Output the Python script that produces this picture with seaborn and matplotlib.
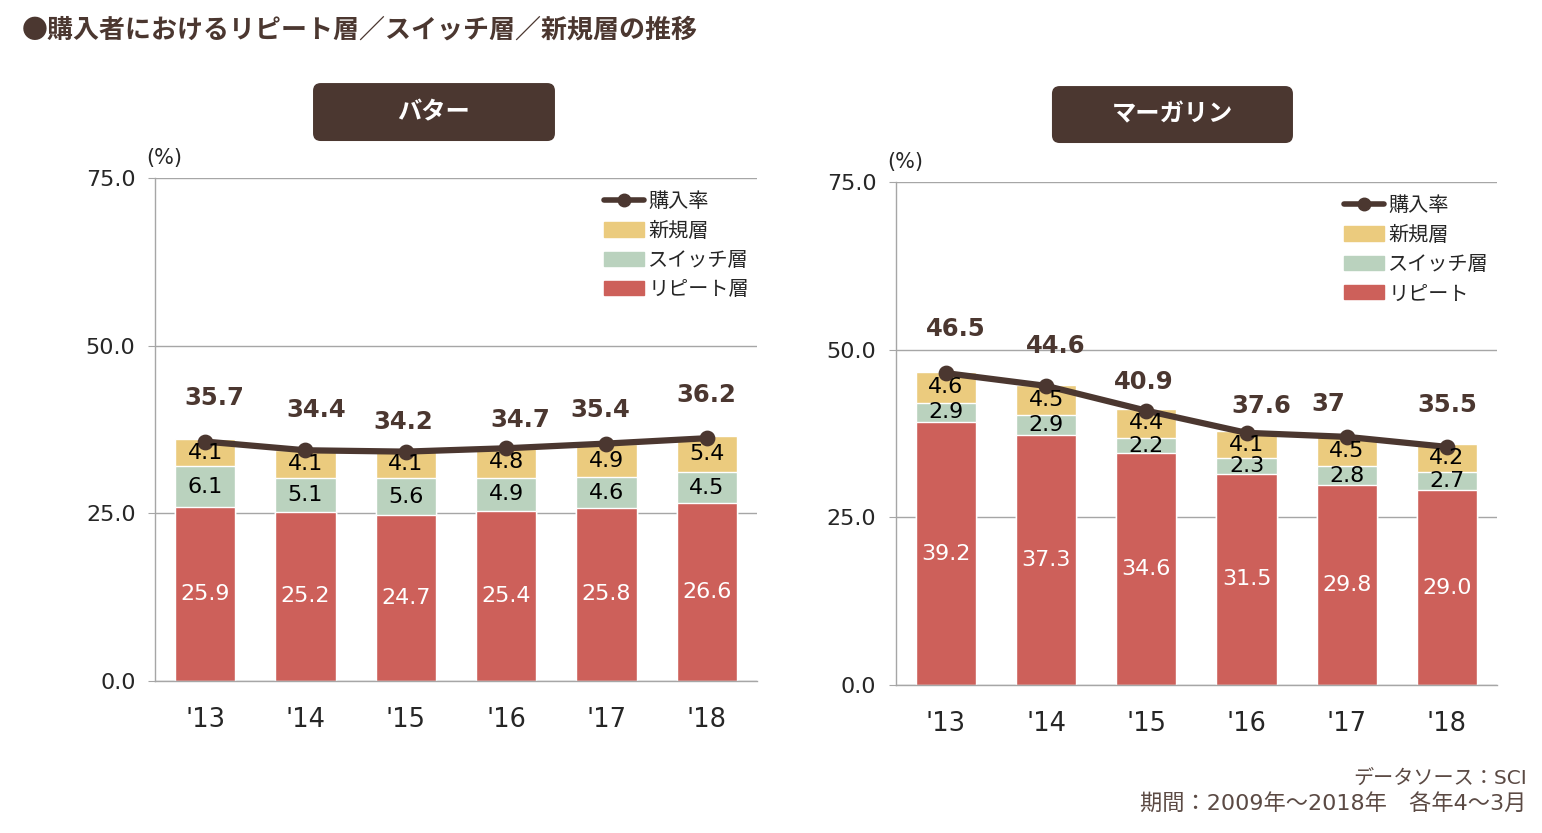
import numpy as np
import pandas as pd
import matplotlib
matplotlib.use("Agg")
import matplotlib.pyplot as plt
from matplotlib.patches import FancyBboxPatch, Patch
from matplotlib.lines import Line2D
import seaborn as sns

years = ["'13", "'14", "'15", "'16", "'17", "'18"]

# バター
butter_repeat = [25.9, 25.2, 24.7, 25.4, 25.8, 26.6]
butter_switch = [6.1, 5.1, 5.6, 4.9, 4.6, 4.5]
butter_new = [4.1, 4.1, 4.1, 4.8, 4.9, 5.4]
butter_rate = [35.7, 34.4, 34.2, 34.7, 35.4, 36.2]

# マーガリン
marg_repeat = [39.2, 37.3, 34.6, 31.5, 29.8, 29.0]
marg_switch = [2.9, 2.9, 2.2, 2.3, 2.8, 2.7]
marg_new = [4.6, 4.5, 4.4, 4.1, 4.5, 4.2]
marg_rate = [46.5, 44.6, 40.9, 37.6, 37, 35.5]

RED = "#CD605A"
GREEN = "#BAD2BE"
YELLOW = "#EBCB7E"
BROWN = "#4B3730"
GRID = "#A6A6A6"

sns.set_style("white")
plt.rcParams['font.family'] = ['DejaVu Sans', 'Noto Sans CJK JP']
JP = ['Noto Sans CJK JP', 'DejaVu Sans']

fig = plt.figure(figsize=(15.42, 8.33), dpi=100)
ax1 = fig.add_axes([0.1005, 0.1825, 0.3904, 0.6038])
ax2 = fig.add_axes([0.581, 0.1777, 0.3898, 0.6038])


def draw(ax, repeat, switch, new, rate, repeat_label, dx, dy):
    df = pd.DataFrame({'year': years, 'repeat': repeat, 'switch': switch, 'new': new})
    df['rs'] = df['repeat'] + df['switch']
    df['total'] = df['rs'] + df['new']
    # stacked bars by overlaying cumulative totals
    sns.barplot(data=df, x='year', y='total', color=YELLOW, width=0.6, saturation=1, ax=ax)
    sns.barplot(data=df, x='year', y='rs', color=GREEN, width=0.6, saturation=1, ax=ax)
    sns.barplot(data=df, x='year', y='repeat', color=RED, width=0.6, saturation=1, ax=ax)

    for i, row in df.iterrows():
        ax.text(i, row['repeat'] / 2, f"{row['repeat']:.1f}", color='white',
                ha='center', va='center', fontsize=16)
        ax.text(i, row['repeat'] + row['switch'] / 2, f"{row['switch']:.1f}", color='black',
                ha='center', va='center', fontsize=16)
        ax.text(i, row['rs'] + row['new'] / 2, f"{row['new']:.1f}", color='black',
                ha='center', va='center', fontsize=16)

    sns.pointplot(x=years, y=rate, color=BROWN, markers='o', markersize=8,
                  linewidth=4.5, ax=ax)
    for i, v in enumerate(rate):
        ax.annotate(f"{v:g}", (i, v), xytext=(dx[i], dy[i]), textcoords='offset pixels',
                    ha='center', va='center', fontsize=17.5, fontweight='bold', color=BROWN)

    ax.set_xlim(-0.5, 5.5)
    ax.set_ylim(0, 75)
    ax.set_yticks([0, 25, 50, 75])
    ax.set_yticklabels([f"{v:.1f}" for v in [0, 25, 50, 75]], fontsize=16)
    ax.set_xlabel('')
    ax.set_ylabel('')
    ax.tick_params(axis='x', which='major', length=0, pad=19, labelsize=18.5)
    ax.set_xticks(np.arange(-0.5, 6, 1), minor=True)
    ax.tick_params(axis='x', which='minor', length=6, color=GRID, direction='out')
    ax.tick_params(axis='y', length=5, color=GRID, direction='out', pad=9, left=True)
    ax.grid(axis='y', color=GRID, lw=1)
    ax.set_axisbelow(True)
    for s in ['top', 'right']:
        ax.spines[s].set_visible(False)
    for s in ['left', 'bottom']:
        ax.spines[s].set_color(GRID)
        ax.spines[s].set_linewidth(1)
    ax.text(0.015, 1.04, "(%)", transform=ax.transAxes, ha='center', va='center', fontsize=15)

    handles = [Line2D([0], [0], color=BROWN, lw=4, marker='o', ms=9),
               Patch(color=YELLOW), Patch(color=GREEN), Patch(color=RED)]
    labels = ['購入率', '新規層', 'スイッチ層', repeat_label]
    ax.legend(handles, labels, loc='upper right', bbox_to_anchor=(1.0, 0.99), frameon=False,
              prop={'family': JP, 'size': 14.5}, handlelength=2.0, handletextpad=0.2,
              labelspacing=0.42, borderaxespad=0)


draw(ax1, butter_repeat, butter_switch, butter_new, butter_rate, 'リピート層',
     [9, 11, -3, 14, -6, 0], [44, 40, 30, 28, 34, 43])
draw(ax2, marg_repeat, marg_switch, marg_new, marg_rate, 'リピート',
     [10, 10, -3, 15, -18, 0], [44, 40, 29, 27, 33, 42])

# panel title boxes
asp = 1542 / 833
for (x, y, w, h), label in [((0.203, 0.8307, 0.1569, 0.0696), 'バター'),
                            ((0.6822, 0.8283, 0.1563, 0.0684), 'マーガリン')]:
    box = FancyBboxPatch((x, y), w, h, boxstyle="round,pad=0,rounding_size=0.005",
                         mutation_aspect=asp, transform=fig.transFigure,
                         facecolor=BROWN, edgecolor='none')
    fig.patches.append(box)
    fig.text(x + w / 2, y + h / 2, label, ha='center', va='center', color='white',
             fontsize=17.5, fontweight='bold', family=JP)

fig.text(0.0143, 0.964, "●購入者におけるリピート層／スイッチ層／新規層の推移",
         ha='left', va='center', fontsize=18.7, fontweight='bold', color=BROWN, family=JP)
fig.text(0.990, 0.066, "データソース：SCI", ha='right', va='center', fontsize=14.5,
         color="#5B4A44", family=['DejaVu Sans', 'Noto Sans CJK JP'])
fig.text(0.990, 0.035, "期間：2009年～2018年　各年4～3月", ha='right', va='center',
         fontsize=16, color="#5B4A44", family=['DejaVu Sans', 'Noto Sans CJK JP'])

fig.savefig("out.png", dpi=100)
